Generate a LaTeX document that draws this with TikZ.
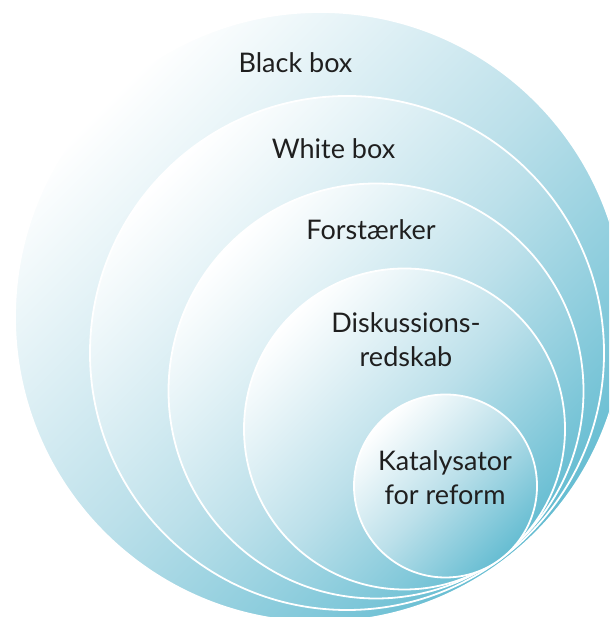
\documentclass[tikz,border=0pt]{standalone}
\usepackage{fontspec}
\setmainfont{Lato}
\usepackage{tikz}

\definecolor{ringlight}{HTML}{BCE0EA}
\definecolor{ringdark}{HTML}{66BDD2}
\tikzset{
  ring/.style={draw=white,line width=1.8pt,top color=white,bottom color=ringdark,
    middle color=ringlight,shading angle=45},
  lab/.style={text=black!88,font=\fontsize{27}{34}\selectfont,align=center}
}

\begin{document}
\begin{tikzpicture}[x=1pt,y=1pt]
\useasboundingbox (0,0) rectangle (609,617);
\clip (0,0) rectangle (609,617);
\foreach \cx/\cy/\r in {320/300/305,347/264/257,376/226/207.5,404.5/188/160.5,445.5/131/91.5}
  \shade[ring] (\cx,\cy) circle (\r);
\node[lab] (black) at (295.5,554) {Black box};
\node[lab] (white) at (333.5,468) {White box};
\node[lab] (amp) at (371,387) {Forstærker};
\node[lab] (disc) at (406,277) {Diskussions-\\redskab};
\node[lab] (cat) at (445,139.5) {Katalysator\\for reform};
\end{tikzpicture}
\end{document}
